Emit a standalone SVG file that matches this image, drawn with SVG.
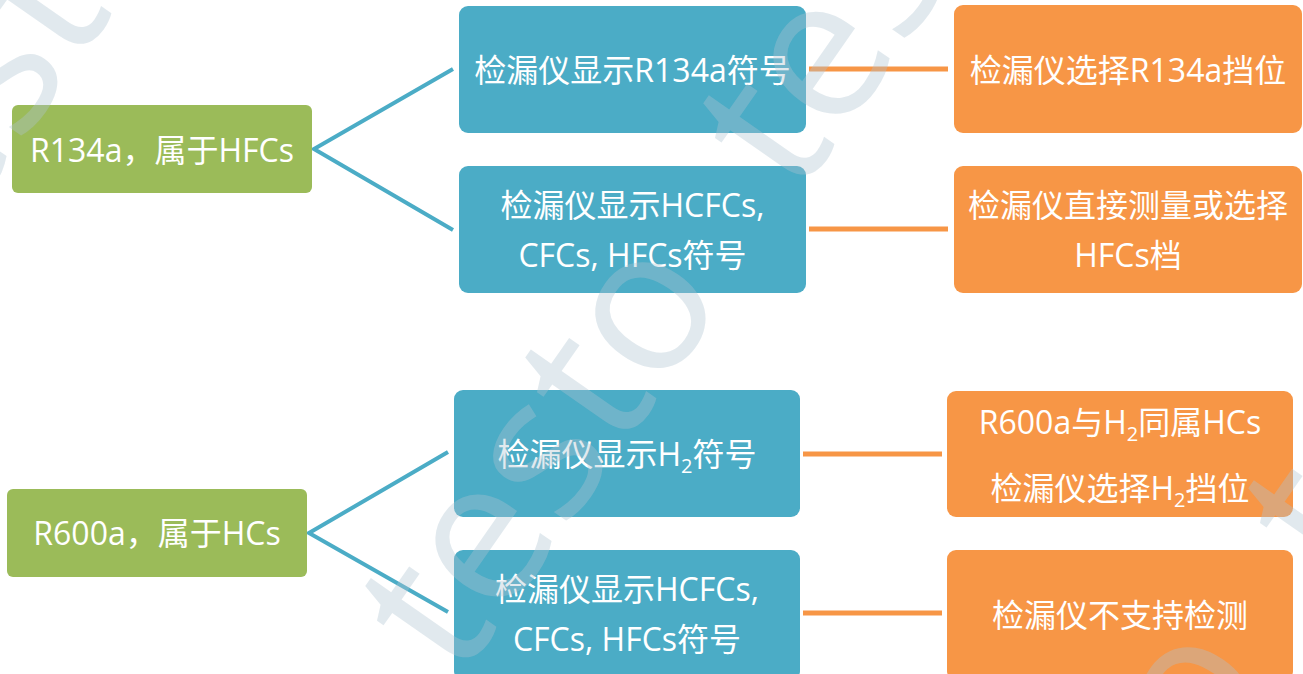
<svg xmlns="http://www.w3.org/2000/svg" width="1303" height="674" viewBox="0 0 1303 674">
<style>
.g{fill:#9BBB59}
.b{fill:#4BACC6}
.o{fill:#F79646}
.t{font-family:"Open Sans","Noto Sans CJK SC",sans-serif;font-size:32px;fill:#FFFFFF;text-anchor:middle}
.sub{font-size:20px}
.cb{fill:none;stroke:#4BACC6;stroke-width:4}
.co{fill:none;stroke:#F79646;stroke-width:5}
.wm{font-family:"Open Sans",sans-serif;font-size:200px;word-spacing:67px;fill:#AEC4D1;fill-opacity:0.37}
</style>
<rect width="1303" height="674" fill="#FFFFFF"/>
<g id="connectors">
<polyline class="cb" points="453,69 314,149 453,230"/>
<polyline class="cb" points="448,452 309,533 448,612"/>
<line class="co" x1="809" y1="69" x2="948" y2="69"/>
<line class="co" x1="809" y1="229" x2="948" y2="229"/>
<line class="co" x1="803" y1="454" x2="942" y2="454"/>
<line class="co" x1="803" y1="613" x2="942" y2="613"/>
</g>
<g id="n-r134a">
<rect class="g" x="12" y="105" width="300" height="88" rx="6"/>
<text class="t" x="162" y="162">R134a，属于HFCs</text>
</g>
<g id="n-show-r134a">
<rect class="b" x="459" y="6" width="347" height="127" rx="9"/>
<text class="t" x="632.5" y="82">检漏仪显示R134a符号</text>
</g>
<g id="n-show-hcfcs-1">
<rect class="b" x="459" y="166" width="347" height="127" rx="9"/>
<text class="t" x="632.5" y="217">检漏仪显示HCFCs,</text>
<text class="t" x="632.5" y="267">CFCs, HFCs符号</text>
</g>
<g id="n-select-r134a">
<rect class="o" x="954" y="5" width="348" height="128" rx="9"/>
<text class="t" x="1128" y="82">检漏仪选择R134a挡位</text>
</g>
<g id="n-select-hfcs">
<rect class="o" x="954" y="166" width="348" height="127" rx="9"/>
<text class="t" x="1128" y="217">检漏仪直接测量或选择</text>
<text class="t" x="1128" y="267">HFCs档</text>
</g>
<g id="n-r600a">
<rect class="g" x="7" y="489" width="300" height="88" rx="6"/>
<text class="t" x="157" y="545">R600a，属于HCs</text>
</g>
<g id="n-show-h2">
<rect class="b" x="454" y="390" width="346" height="127" rx="9"/>
<text class="t" x="627" y="466">检漏仪显示H<tspan class="sub" dy="7">2</tspan><tspan dy="-7">符号</tspan></text>
</g>
<g id="n-show-hcfcs-2">
<rect class="b" x="454" y="550" width="346" height="130" rx="9"/>
<text class="t" x="627" y="601">检漏仪显示HCFCs,</text>
<text class="t" x="627" y="651">CFCs, HFCs符号</text>
</g>
<g id="n-h2-hcs">
<rect class="o" x="947" y="391" width="346" height="126" rx="9"/>
<text class="t" x="1120" y="434">R600a与H<tspan class="sub" dy="7">2</tspan><tspan dy="-7">同属HCs</tspan></text>
<text class="t" x="1120" y="500">检漏仪选择H<tspan class="sub" dy="7">2</tspan><tspan dy="-7">挡位</tspan></text>
</g>
<g id="n-unsupported">
<rect class="o" x="947" y="550" width="346" height="130" rx="9"/>
<text class="t" x="1120" y="627">检漏仪不支持检测</text>
</g>
<g id="watermark">
<text class="wm" transform="translate(-86,297) rotate(-55)">testo testo</text>
<text class="wm" transform="translate(459,682) rotate(-55)">testo testo</text>
<text class="wm" transform="translate(1004,1067) rotate(-55)">testo testo</text>
</g>
</svg>
